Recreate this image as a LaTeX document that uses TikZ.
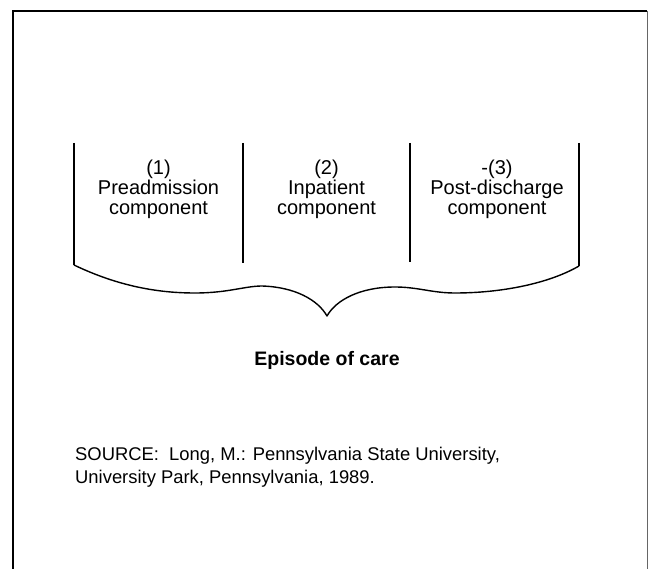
\documentclass[tikz,border=0pt]{standalone}
\usepackage{fontspec}
\setmainfont{Liberation Sans}
\begin{document}
\begin{tikzpicture}[x=1pt,y=-1pt,
  lbl/.style={anchor=base,inner sep=0pt,font=\fontsize{20}{20}\selectfont},
  src/.style={anchor=base west,inner sep=0pt,font=\fontsize{18.4}{23}\selectfont},
  sep/.style={line width=1.6pt},
  frame/.style={line width=2pt},
  brace/.style={line width=1.4pt,line join=round}]
\useasboundingbox (0,0) rectangle (648,569);
% frame
\draw[frame] (13,569) -- (13,11) -- (647,11);
\draw[line width=1pt,black!60] (647,11) -- (647,569);
% separators
\coordinate (a1) at (74,143);  \coordinate (a2) at (74,265);
\coordinate (b1) at (243,143); \coordinate (b2) at (243,263);
\coordinate (c1) at (410,143); \coordinate (c2) at (410,262);
\coordinate (d1) at (579,143); \coordinate (d2) at (579,266);
\draw[sep] (a1) -- (a2);
\draw[sep] (b1) -- (b2);
\draw[sep] (c1) -- (c2);
\draw[sep] (d1) -- (d2);
% brace
\coordinate (tip) at (327,316);
\draw[brace] (a2) .. controls (120,287) and (160,293) .. (195,293)
  .. controls (228,293) and (245,286) .. (262,286)
  .. controls (295,287) and (318,300) .. (tip)
  .. controls (336,300) and (360,287) .. (395,287)
  .. controls (418,287) and (432,293) .. (455,293)
  .. controls (500,293) and (548,284) .. (d2);
% labels
\node[lbl] (n1) at (158.5,175) {(1)};
\node[lbl] (p1) at (158.5,195) {Preadmission};
\node[lbl] (q1) at (158.5,215) {component};
\node[lbl] (n2) at (326.5,175) {(2)};
\node[lbl] (p2) at (326.5,195) {Inpatient};
\node[lbl] (q2) at (326.5,215) {component};
\node[lbl] (n3) at (497,175) {-(3)};
\node[lbl] (p3) at (497,195) {Post-discharge};
\node[lbl] (q3) at (497,215) {component};
\node[lbl,font=\fontsize{19.5}{20}\selectfont\bfseries] (ep) at (327,366) {Episode of care};
\node[src] (s1) at (75,460) {SOURCE:\ \ Long, M.: Pennsylvania State University,};
\node[src] (s2) at (75,483) {University Park, Pennsylvania, 1989.};
\end{tikzpicture}
\end{document}
